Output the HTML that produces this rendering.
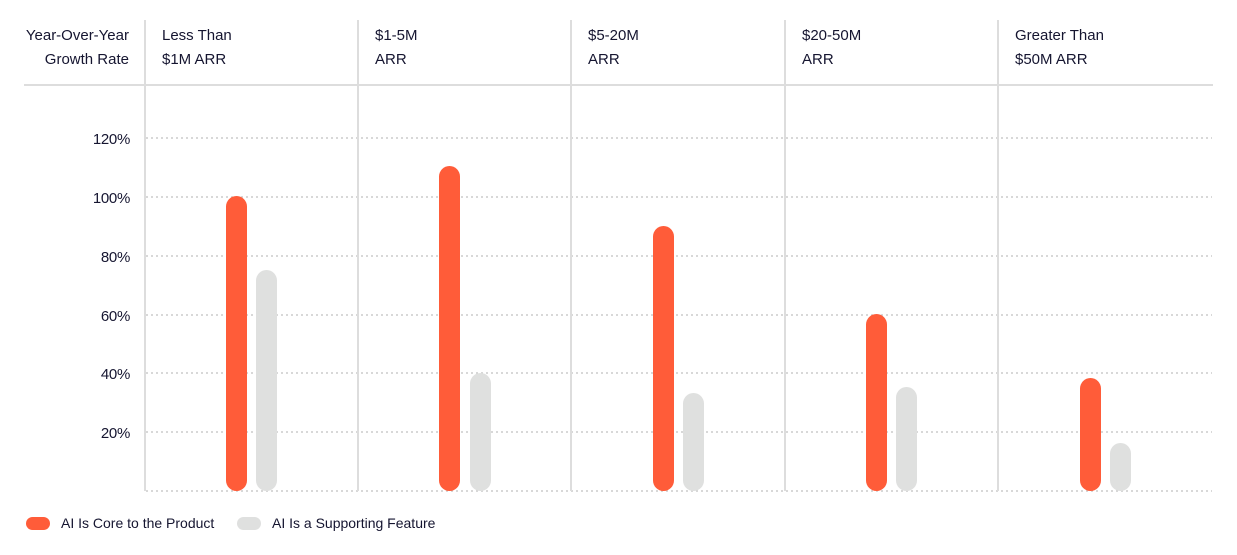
<!DOCTYPE html><html><head><style>body{margin:0;background:#fff}svg{display:block;font-family:"Liberation Sans",sans-serif}</style></head><body>
<svg width="1237" height="555" viewBox="0 0 1237 555">
<g fill="#151530" font-size="15" letter-spacing="0">
<text x="129" y="40" text-anchor="end">Year-Over-Year</text>
<text x="129" y="64" text-anchor="end">Growth Rate</text>
<text x="162" y="40">Less Than</text><text x="162" y="64">$1M ARR</text>
<text x="375" y="40">$1-5M</text><text x="375" y="64">ARR</text>
<text x="588" y="40">$5-20M</text><text x="588" y="64">ARR</text>
<text x="802" y="40">$20-50M</text><text x="802" y="64">ARR</text>
<text x="1015" y="40">Greater Than</text><text x="1015" y="64">$50M ARR</text>
</g>
<line x1="24" y1="85" x2="1213" y2="85" stroke="#ddd" stroke-width="2"/>
<g stroke="#ccc" stroke-width="1.5" stroke-dasharray="2,3">
<line x1="146" y1="138" x2="1212" y2="138"/><line x1="146" y1="197" x2="1212" y2="197"/>
<line x1="146" y1="256" x2="1212" y2="256"/><line x1="146" y1="315" x2="1212" y2="315"/>
<line x1="146" y1="373" x2="1212" y2="373"/><line x1="146" y1="432" x2="1212" y2="432"/>
<line x1="146" y1="491" x2="1212" y2="491"/>
</g>
<g stroke="#ddd" stroke-width="2">
<line x1="145" y1="20" x2="145" y2="491"/><line x1="358" y1="20" x2="358" y2="491"/>
<line x1="571" y1="20" x2="571" y2="491"/><line x1="785" y1="20" x2="785" y2="491"/>
<line x1="998" y1="20" x2="998" y2="491"/>
</g>
<g fill="#151530" font-size="15" text-anchor="end" letter-spacing="-0.3">
<text x="130" y="144">120%</text><text x="130" y="203">100%</text><text x="130" y="262">80%</text>
<text x="130" y="321">60%</text><text x="130" y="379">40%</text><text x="130" y="438">20%</text>
</g>
<g fill="#ff5c39">
<rect x="226" y="196" width="21" height="295" rx="10.5"/>
<rect x="439" y="166" width="21" height="325" rx="10.5"/>
<rect x="653" y="226" width="21" height="265" rx="10.5"/>
<rect x="866" y="314" width="21" height="177" rx="10.5"/>
<rect x="1080" y="378" width="21" height="113" rx="10.5"/>
<rect x="26" y="517" width="24" height="13" rx="6.5"/>
</g>
<g fill="#dfe0df">
<rect x="256" y="270" width="21" height="221" rx="10.5"/>
<rect x="470" y="373" width="21" height="118" rx="10.5"/>
<rect x="683" y="393" width="21" height="98" rx="10.5"/>
<rect x="896" y="387" width="21" height="104" rx="10.5"/>
<rect x="1110" y="443" width="21" height="48" rx="10.5"/>
<rect x="237" y="517" width="24" height="13" rx="6.5"/>
</g>
<g fill="#151530" font-size="14" letter-spacing="0">
<text x="61" y="528">AI Is Core to the Product</text>
<text x="272" y="528">AI Is a Supporting Feature</text>
</g>
</svg></body></html>
